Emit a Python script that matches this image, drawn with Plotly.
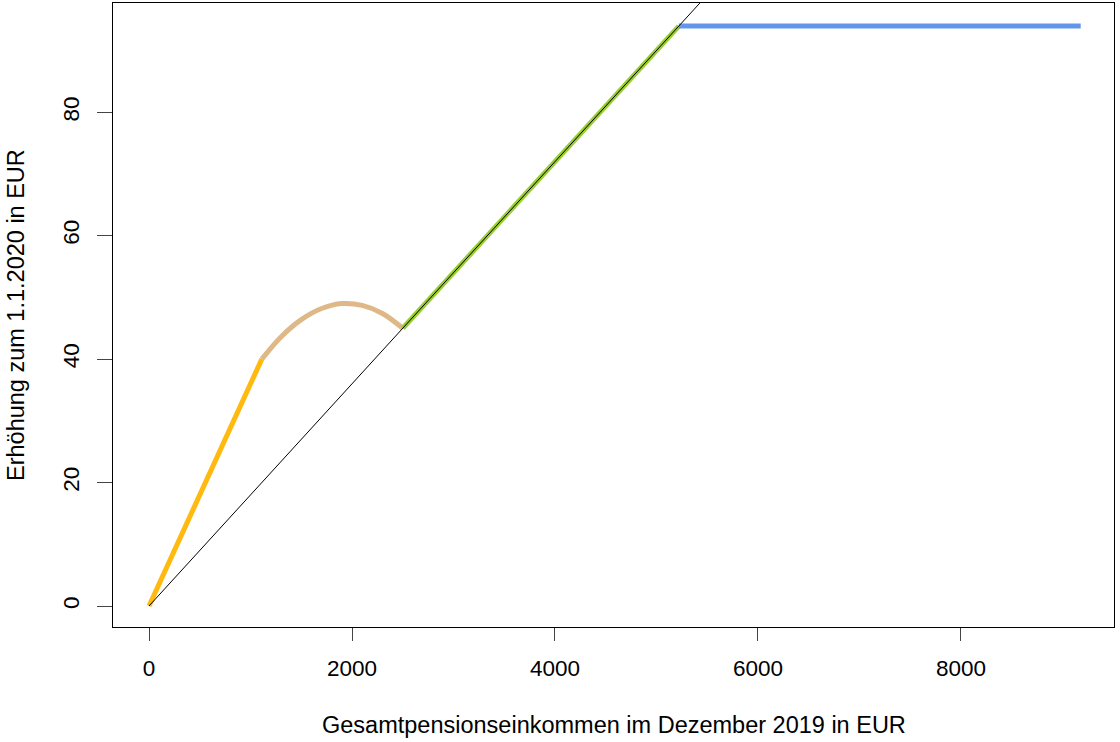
import plotly.graph_objects as go

# Data
orange_x = [0, 1111]
orange_y = [0, 40.0]

tan_x = [1111, 1300, 1500, 1700, 1900, 2100, 2300, 2500]
tan_y = [40.0, 43.6, 46.4, 48.2, 49.0, 48.7, 47.4, 45.0]

green_x = [2500, 5220]
green_y = [45.0, 93.96]

blue_x = [5220, 9180]
blue_y = [93.96, 93.96]

ref_x = [0, 9180]
ref_y = [0, 165.24]

x_ticks = [0, 2000, 4000, 6000, 8000]
y_ticks = [0, 20, 40, 60, 80]

FONT = "Liberation Sans, Arial, sans-serif"

fig = go.Figure()
fig.add_trace(go.Scatter(x=orange_x, y=orange_y, mode="lines",
                         line=dict(color="#FFB90F", width=5), hoverinfo="skip"))
fig.add_trace(go.Scatter(x=tan_x, y=tan_y, mode="lines",
                         line=dict(color="#DEB887", width=5, shape="spline"), hoverinfo="skip"))
fig.add_trace(go.Scatter(x=green_x, y=green_y, mode="lines",
                         line=dict(color="#9ACD32", width=5), hoverinfo="skip"))
fig.add_trace(go.Scatter(x=blue_x, y=blue_y, mode="lines",
                         line=dict(color="#6495ED", width=5), hoverinfo="skip"))
fig.add_trace(go.Scatter(x=ref_x, y=ref_y, mode="lines",
                         line=dict(color="black", width=1), hoverinfo="skip"))

fig.update_layout(
    width=1120, height=742,
    margin=dict(l=113, r=6, t=3, b=115),
    paper_bgcolor="white", plot_bgcolor="white",
    showlegend=False,
    font=dict(family=FONT, size=22, color="black"),
    xaxis=dict(range=[-355, 9508], tickvals=x_ticks, ticktext=[str(v) for v in x_ticks],
               showgrid=False, zeroline=False, showline=True, linecolor="black", linewidth=1,
               mirror=True, ticks="outside", ticklen=13, tickcolor="#444444",
               tickfont=dict(size=22.5), ticklabelstandoff=8),
    yaxis=dict(range=[-3.4, 97.7], tickvals=y_ticks, ticktext=[str(v) for v in y_ticks],
               showgrid=False, zeroline=False, showline=True, linecolor="black", linewidth=1,
               mirror=True, ticks="outside", ticklen=15, tickcolor="#444444",
               tickangle=-90, tickfont=dict(size=22.5), ticklabelstandoff=9),
    annotations=[
        dict(text="Gesamtpensionseinkommen im Dezember 2019 in EUR",
             xref="paper", yref="paper", x=0.5, y=0, yshift=-98,
             xanchor="center", yanchor="middle", showarrow=False,
             font=dict(size=23.5)),
        dict(text="Erhöhung zum 1.1.2020 in EUR",
             xref="paper", yref="paper", x=0, y=0.5, xshift=-97,
             xanchor="center", yanchor="middle", showarrow=False, textangle=-90,
             font=dict(size=23.5)),
    ],
)

fig.write_html("out.html", config={"displayModeBar": False},
               post_script="document.body.style.margin='0';document.body.style.padding='0';")
